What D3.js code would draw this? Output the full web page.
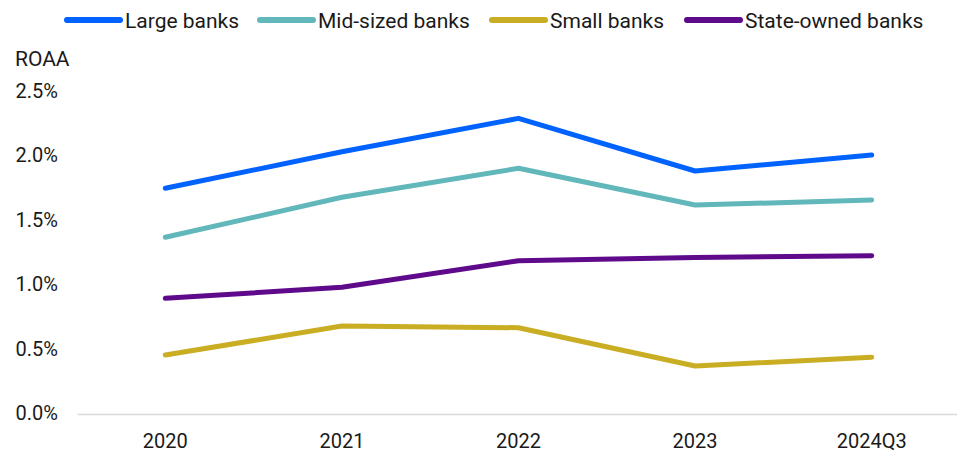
<!DOCTYPE html>
<html><head><meta charset="utf-8">
<script src="https://cdn.jsdelivr.net/npm/d3@7"></script>
<style>body{margin:0;background:#fff;}svg{display:block;font-family:Roboto,"Noto Sans",sans-serif;}</style>
</head><body>
<script>
const categories = ["2020","2021","2022","2023","2024Q3"];
const seriesNames = ["Large banks","Mid-sized banks","Small banks","State-owned banks"];
const largeBanks = [1.746, 2.029, 2.288, 1.880, 2.004];
const midSizedBanks = [1.366, 1.676, 1.901, 1.616, 1.655];
const smallBanks = [0.453, 0.678, 0.665, 0.368, 0.436];
const stateOwnedBanks = [0.893, 0.978, 1.184, 1.209, 1.223];
const yTicks = [0, 0.5, 1.0, 1.5, 2.0, 2.5];
const colors = ["#0062ff", "#62b7bb", "#c9ad22", "#5e0a8b"];

const series = [largeBanks, midSizedBanks, smallBanks, stateOwnedBanks];
const W = 957, H = 453;
const svg = d3.select("body").append("svg").attr("width", W).attr("height", H);

const x = d3.scaleBand().domain(categories).range([77, 960]).padding(0);
const y = d3.scaleLinear().domain([0, 2.5]).range([413.5, 91]);

// y axis labels
const yAxis = d3.axisLeft(y).tickValues(yTicks).tickFormat(d => d.toFixed(1) + "%").tickSize(0).tickPadding(0);
const gy = svg.append("g").attr("transform", "translate(58,0)").call(yAxis);
gy.select(".domain").remove();
gy.selectAll("text").attr("font-size", 20).attr("fill", "#1a1a1a").attr("font-family", "Roboto");

// x axis
const xAxis = d3.axisBottom(x).tickSize(0).tickPadding(0);
const gx = svg.append("g").attr("transform", "translate(0,414)").call(xAxis);
gx.select(".domain").attr("stroke", "#d9d9d9").attr("stroke-width", 1.5);
gx.selectAll("text").attr("font-size", 20).attr("fill", "#1a1a1a").attr("font-family", "Roboto").attr("dy", null).attr("y", 34);

// ROAA label
svg.append("text").attr("x", 15).attr("y", 66).attr("font-size", 21).attr("fill", "#1a1a1a").text("ROAA");

// lines
const line = d3.line().x((d, i) => x(categories[i]) + x.bandwidth() / 2).y(d => y(d));
series.forEach((s, i) => {
  svg.append("path").datum(s).attr("d", line).attr("fill", "none")
    .attr("stroke", colors[i]).attr("stroke-width", 5)
    .attr("stroke-linecap", "round").attr("stroke-linejoin", "round");
});

// legend
const legendX = [67, 260, 492, 687];
seriesNames.forEach((n, i) => {
  const g = svg.append("g").attr("transform", `translate(${legendX[i]},20)`);
  g.append("line").attr("x1", 0).attr("x2", 53).attr("y1", 0).attr("y2", 0)
    .attr("stroke", colors[i]).attr("stroke-width", 6).attr("stroke-linecap", "round");
  g.append("text").attr("x", 58).attr("y", 7.5).attr("font-size", 21).attr("fill", "#1a1a1a").text(n);
});
</script>
</body></html>
